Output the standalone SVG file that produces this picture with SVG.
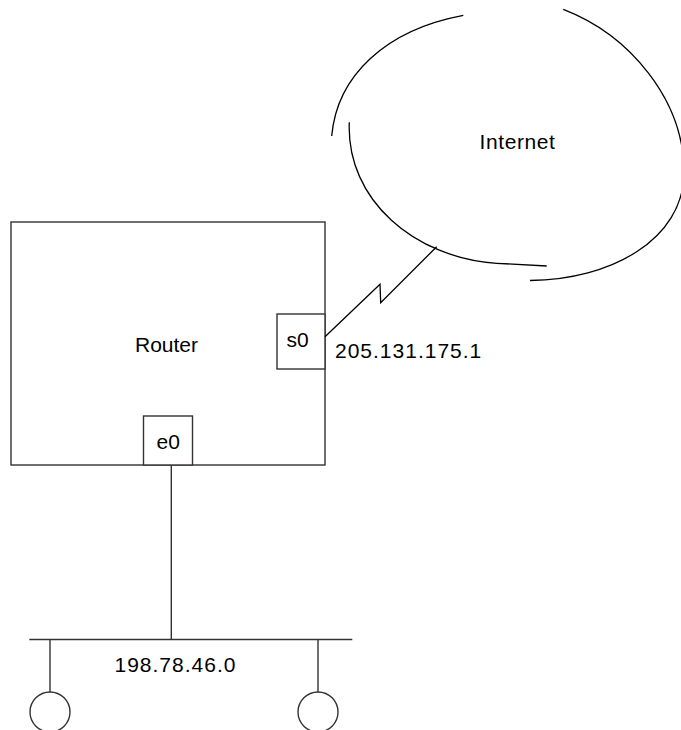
<svg xmlns="http://www.w3.org/2000/svg" width="681" height="730" viewBox="0 0 681 730">
<style>
.box{fill:#fff;stroke:#333;stroke-width:1.4}
.ln{fill:none;stroke:#333;stroke-width:1.4}
.cl{fill:none;stroke:#000;stroke-width:1.3}
.t{font-family:"Liberation Sans",Arial,sans-serif;font-size:21px;fill:#000}
.ip{letter-spacing:1px}
</style>
<rect width="681" height="730" fill="#fff"/>
<g id="internet">
<path class="cl" d="M331.7,136 C337,76 385,30 463.3,15.3"/>
<path class="cl" d="M563.3,9.3 C630,35 684,100 684,172 C684,240 610,280 530,280.5"/>
<path class="cl" d="M349.3,122.3 C346,200 415,258 496.7,263.3 L546.7,266"/>
<text class="t" x="479.5" y="149" style="letter-spacing:0.6px">Internet</text>
</g>
<g id="router">
<rect class="box" x="11" y="222" width="314" height="243"/>
<text class="t" x="135" y="352">Router</text>
</g>
<g id="s0">
<rect class="box" x="277" y="314" width="48" height="55"/>
<text class="t" x="286.5" y="346.5">s0</text>
</g>
<g id="e0">
<rect class="box" x="143.5" y="416" width="49" height="49"/>
<text class="t" x="156.5" y="448.5">e0</text>
</g>
<g id="host1">
<circle class="ln" cx="50" cy="712" r="20"/>
</g>
<g id="host2">
<circle class="ln" cx="318" cy="712" r="20"/>
</g>
<g id="connectors">
<polyline class="cl" points="325,336.7 380,284.3 380.7,302.7 436.7,246.7"/>
<line class="ln" x1="171.3" y1="465" x2="171.3" y2="639.5"/>
<line class="ln" x1="29.3" y1="639.5" x2="352.3" y2="639.5"/>
<line class="ln" x1="50" y1="639.5" x2="50" y2="692"/>
<line class="ln" x1="318" y1="639.5" x2="318" y2="692"/>
</g>
<text class="t ip" x="335" y="357.5">205.131.175.1</text>
<text class="t ip" x="114.5" y="671.5">198.78.46.0</text>
</svg>
